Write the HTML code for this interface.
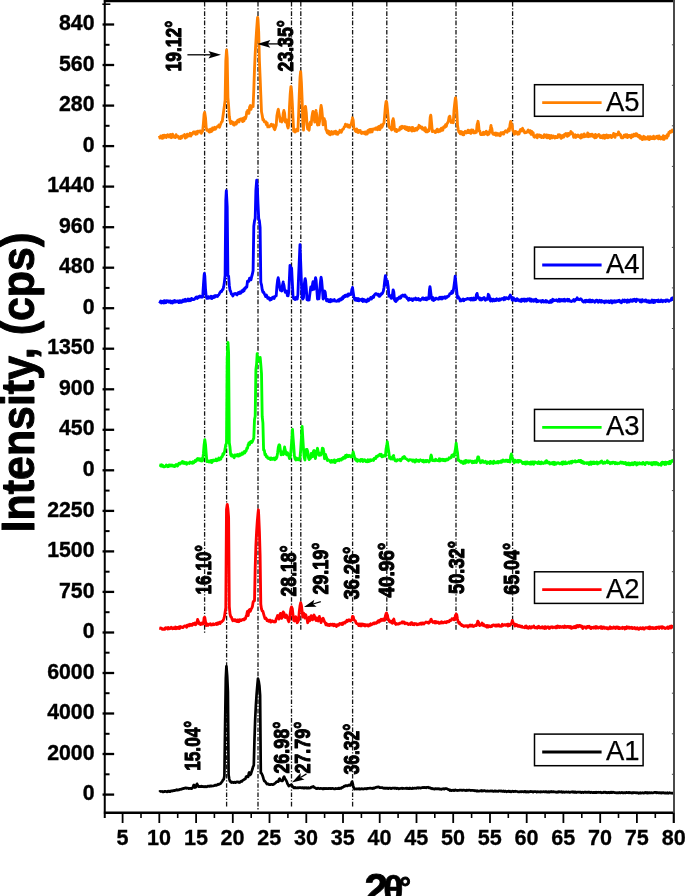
<!DOCTYPE html>
<html lang="en"><head><meta charset="utf-8"><title>XRD patterns A1-A5</title>
<style>html,body{margin:0;padding:0;background:#fff}svg{display:block}</style></head>
<body>
<svg width="685" height="896" viewBox="0 0 685 896" font-family='"Liberation Sans", Arial, Helvetica, sans-serif' font-weight="bold">
<rect x="0" y="0" width="685" height="896" fill="#fff"/>
<g stroke="#161616" stroke-width="1.3" stroke-dasharray="4.6 1.7 1.3 1.7" fill="none">
<line x1="204.6" y1="2" x2="204.6" y2="633"/>
<line x1="226.6" y1="2" x2="226.6" y2="808"/>
<line x1="258.0" y1="2" x2="258.0" y2="811"/>
<line x1="291.5" y1="2" x2="291.5" y2="808"/>
<line x1="300.8" y1="2" x2="300.8" y2="631.5"/>
<line x1="352.6" y1="2" x2="352.6" y2="808"/>
<line x1="386.8" y1="2" x2="386.8" y2="631.5"/>
<line x1="456.0" y1="2" x2="456.0" y2="630"/>
<line x1="512.6" y1="2" x2="512.6" y2="630"/>
</g>
<path d="M159.3 135.8L160.0 138.0L160.7 136.0L161.4 136.3L162.1 138.4L162.8 135.5L163.5 138.0L164.2 135.2L164.9 136.4L165.6 135.4L166.3 137.6L167.0 135.2L167.7 134.8L168.4 135.5L169.1 137.0L169.8 134.9L170.5 134.4L171.2 137.7L171.9 136.6L172.6 134.2L173.3 137.1L174.0 136.5L174.7 136.1L175.4 137.6L176.1 134.7L176.8 136.5L177.5 136.0L178.2 136.4L178.9 138.2L179.6 137.3L180.3 138.5L181.0 136.4L181.7 137.9L182.4 135.8L183.1 135.7L183.8 135.8L184.5 134.6L185.2 138.1L185.9 135.4L186.6 137.3L187.3 134.1L188.0 135.3L188.7 136.1L189.4 135.3L190.1 133.3L190.8 136.0L191.5 133.5L192.2 134.4L192.9 133.1L193.6 131.8L194.3 131.8L195.0 133.6L195.7 134.3L196.4 131.6L197.1 133.8L197.8 131.1L198.5 131.4L199.2 132.0L199.9 130.9L200.6 130.9L201.3 133.3L202.0 132.1L202.7 131.0L203.4 123.5L204.1 114.2L204.6 112.4L204.8 113.2L205.5 117.7L206.2 127.6L206.9 130.4L207.6 129.5L208.3 130.1L209.0 131.9L209.7 132.1L210.4 129.1L211.1 131.6L211.8 131.2L212.5 128.0L213.2 129.8L213.9 128.3L214.6 127.3L215.3 129.2L216.0 128.4L216.7 126.9L217.4 126.5L218.1 126.6L218.8 125.1L219.5 127.4L220.2 125.4L220.9 123.5L221.6 121.9L222.3 121.3L223.0 116.0L223.7 110.9L224.4 105.7L225.1 100.2L225.8 61.2L226.5 50.5L226.6 50.0L227.2 58.0L227.9 97.3L228.6 105.8L229.3 116.6L230.0 120.5L230.7 123.6L231.4 121.4L232.1 122.5L232.8 122.3L233.5 124.8L234.2 125.1L234.9 123.3L235.6 122.2L236.3 124.1L237.0 121.8L237.7 120.3L238.4 119.9L239.1 122.0L239.8 119.4L240.5 119.1L241.2 118.8L241.9 119.4L242.6 121.6L243.3 118.1L244.0 120.8L244.7 117.4L245.4 118.8L246.1 116.5L246.8 111.8L247.5 110.8L247.6 110.5L248.2 111.5L248.9 113.4L249.6 107.0L250.3 105.5L251.0 109.4L251.7 106.5L252.4 105.5L253.1 106.6L253.8 89.7L254.5 69.1L255.2 53.5L255.9 41.3L256.6 30.2L257.3 20.5L257.6 17.4L257.7 17.4L258.0 19.8L258.7 32.2L259.4 60.5L260.1 77.0L260.8 94.9L261.5 111.7L262.2 115.3L262.9 119.8L263.6 119.4L264.3 121.8L265.0 122.0L265.7 121.8L266.4 124.7L267.1 122.8L267.8 126.9L268.5 126.7L269.2 126.9L269.9 126.4L270.6 125.1L271.3 124.2L272.0 125.5L272.7 126.2L273.4 124.7L274.1 128.7L274.8 129.7L275.5 127.4L276.2 125.3L276.9 115.7L277.6 112.1L278.2 109.5L278.3 109.3L279.0 113.4L279.7 117.2L280.4 121.4L281.0 119.0L281.1 120.7L281.8 121.9L282.5 120.6L283.2 113.4L283.9 110.5L284.6 113.1L285.3 122.0L286.0 121.6L286.6 121.0L286.7 119.9L287.4 126.0L288.1 128.0L288.8 124.3L289.5 106.5L290.2 94.2L290.9 86.6L291.0 86.6L291.6 91.4L292.3 103.1L293.0 118.0L293.7 131.2L294.4 130.4L295.1 132.0L295.8 129.7L296.5 130.9L297.2 129.0L297.9 130.8L298.6 114.9L299.3 94.0L300.0 78.0L300.6 71.7L300.7 71.9L301.4 82.4L302.1 99.2L302.8 122.2L303.5 130.1L304.2 115.8L304.9 108.9L305.4 106.4L305.6 106.9L306.3 112.9L307.0 124.5L307.7 129.0L308.4 129.1L309.1 130.2L309.8 123.6L310.4 122.0L310.5 123.1L311.2 124.6L311.9 117.0L312.6 112.8L312.9 111.5L313.3 112.6L314.0 117.8L314.7 122.1L315.4 113.5L316.0 110.5L316.1 111.3L316.8 115.1L317.5 125.0L318.2 122.1L318.6 122.0L318.9 124.9L319.6 121.2L320.3 111.2L321.0 106.2L321.1 105.4L321.7 108.7L322.4 116.2L323.1 124.9L323.8 119.9L324.2 118.7L324.5 119.8L325.2 121.2L325.9 129.3L326.6 130.6L327.3 132.7L328.0 130.9L328.7 134.0L329.4 131.5L330.1 134.8L330.8 132.5L331.5 131.6L332.2 134.0L332.9 134.1L333.6 131.9L334.3 131.7L335.0 133.3L335.7 131.1L336.4 134.1L337.1 132.1L337.8 134.3L338.5 132.7L339.2 132.6L339.9 130.3L340.6 131.0L341.3 132.2L342.0 130.5L342.7 129.1L343.4 129.1L344.1 127.1L344.8 126.8L345.5 124.1L345.6 124.8L346.2 126.3L346.9 125.2L347.6 124.8L348.3 127.0L349.0 125.4L349.7 127.3L350.4 124.8L351.1 124.7L351.8 121.6L352.4 118.7L352.5 117.8L353.2 120.2L353.9 128.7L354.6 129.0L355.3 131.0L356.0 131.6L356.7 128.9L357.4 132.1L358.1 132.4L358.8 130.4L359.5 131.7L360.2 130.4L360.9 132.9L361.6 133.5L362.3 132.3L363.0 132.1L363.7 133.2L364.4 133.7L365.1 131.9L365.8 134.2L366.5 132.3L367.2 134.0L367.9 130.6L368.6 130.0L369.3 132.2L370.0 129.4L370.7 132.0L371.4 129.3L372.1 131.8L372.8 129.2L373.5 128.8L374.2 128.8L374.9 129.2L375.6 128.0L376.3 129.2L377.0 127.7L377.7 129.7L378.4 126.9L379.1 126.3L379.8 129.6L380.5 128.0L381.2 124.9L381.9 127.3L382.6 125.6L383.3 123.9L384.0 123.0L384.7 114.9L385.4 106.3L386.1 101.4L386.3 101.3L386.8 103.0L387.5 109.9L388.2 118.4L388.9 126.0L389.6 127.6L390.3 127.9L391.0 128.8L391.7 129.9L392.4 121.0L393.1 119.4L393.2 118.7L393.8 121.6L394.5 129.5L395.2 130.9L395.9 129.4L396.6 131.6L397.3 129.9L398.0 130.5L398.7 130.3L399.4 130.2L400.1 127.4L400.8 126.8L401.5 128.7L402.2 126.3L402.9 127.6L403.6 127.7L404.3 126.6L405.0 128.7L405.7 126.8L406.4 129.6L407.1 127.1L407.8 130.1L408.5 130.6L409.2 127.5L409.9 127.8L410.6 130.1L411.3 127.7L412.0 131.1L412.7 127.5L413.4 129.0L414.1 130.8L414.8 130.7L415.5 128.4L416.2 129.2L416.9 130.1L417.6 127.5L418.3 128.5L419.0 125.3L419.7 126.2L420.4 126.8L421.1 128.1L421.8 126.9L422.5 129.3L423.2 128.3L423.9 128.2L424.6 130.7L425.3 127.7L426.0 131.8L426.7 129.8L427.4 131.9L428.1 130.2L428.8 131.0L429.5 127.9L430.2 117.4L430.7 115.2L430.9 115.9L431.6 123.3L432.3 131.6L433.0 130.6L433.7 131.1L434.4 131.5L435.1 132.5L435.8 130.7L436.5 131.9L437.2 129.2L437.9 130.2L438.6 131.8L439.3 129.7L440.0 131.3L440.7 130.8L441.4 128.1L442.1 128.7L442.8 130.2L443.5 127.0L444.2 126.6L444.9 127.3L445.6 124.6L446.3 126.5L447.0 123.6L447.7 122.8L448.4 121.0L449.1 116.9L449.6 117.0L449.8 116.1L450.5 120.4L451.2 122.5L451.9 121.9L452.6 120.7L453.3 122.7L454.0 110.2L454.7 103.7L455.4 98.1L455.6 97.8L456.1 101.1L456.8 111.1L457.5 125.3L458.2 129.5L458.9 132.2L459.6 131.6L460.3 133.7L461.0 131.5L461.7 134.1L462.4 132.1L463.1 134.9L463.8 134.9L464.5 132.3L465.2 131.3L465.9 132.0L466.6 132.9L467.3 132.3L468.0 130.2L468.7 132.5L469.4 130.6L470.1 132.9L470.8 133.4L471.5 129.9L472.2 130.6L472.9 130.1L473.6 132.9L474.3 131.6L475.0 132.7L475.7 131.6L476.4 132.2L477.1 124.6L477.8 122.5L478.0 121.3L478.5 124.0L479.2 131.1L479.9 131.2L480.6 134.5L481.3 134.1L482.0 134.6L482.7 133.6L483.4 132.2L484.1 134.5L484.8 134.1L485.5 132.2L486.2 131.2L486.9 132.2L487.6 134.8L488.3 132.2L489.0 134.1L489.7 132.1L490.4 128.8L491.0 125.4L491.1 126.9L491.8 128.5L492.5 133.2L493.2 134.3L493.9 133.4L494.6 134.6L495.3 133.0L496.0 135.3L496.7 133.2L497.4 133.5L498.1 135.2L498.8 133.8L499.5 135.0L500.2 135.8L500.9 132.7L501.6 133.9L502.3 132.9L503.0 132.4L503.7 134.1L504.4 132.3L505.1 131.2L505.8 130.7L506.5 131.6L507.2 132.3L507.9 130.7L508.6 128.7L509.3 130.9L510.0 124.6L510.7 121.4L511.0 122.3L511.4 123.7L512.1 125.0L512.8 130.6L513.5 131.1L514.2 134.3L514.9 134.0L515.6 131.4L516.3 132.4L517.0 132.2L517.7 134.2L518.4 132.2L519.1 133.9L519.8 131.3L520.5 129.5L521.2 130.9L521.9 130.1L522.6 128.3L523.3 131.3L524.0 130.6L524.7 132.9L525.4 132.3L526.1 132.5L526.8 132.4L527.5 131.2L528.2 130.0L528.9 132.1L529.6 132.5L530.3 130.6L531.0 134.3L531.7 131.5L532.4 134.5L533.1 132.5L533.8 136.5L534.5 137.2L535.2 136.9L535.9 136.5L536.6 134.9L537.3 137.8L538.0 134.8L538.7 136.0L539.4 134.9L540.1 136.8L540.8 135.4L541.5 137.6L542.2 136.2L542.9 136.7L543.6 137.4L544.3 134.7L545.0 135.4L545.7 137.0L546.4 134.9L547.1 137.9L547.8 135.2L548.5 137.6L549.2 135.4L549.9 138.5L550.6 137.8L551.3 135.5L552.0 137.9L552.7 137.2L553.4 136.0L554.1 137.2L554.8 137.9L555.5 136.4L556.2 137.4L556.9 137.6L557.6 137.5L558.3 134.8L559.0 136.8L559.7 134.8L560.4 135.9L561.1 138.4L561.8 135.7L562.5 137.5L563.2 135.4L563.9 136.9L564.6 134.3L565.3 135.1L566.0 133.6L566.7 135.7L567.4 136.3L568.1 133.5L568.8 135.5L569.5 133.4L570.2 134.0L570.9 131.5L571.6 133.5L572.3 132.7L573.0 134.5L573.7 137.3L574.4 135.0L575.1 134.7L575.8 137.5L576.5 136.5L577.2 135.3L577.9 134.9L578.6 136.6L579.3 135.8L580.0 137.4L580.7 138.1L581.4 134.6L582.1 137.3L582.8 135.0L583.5 136.9L584.2 134.0L584.9 136.7L585.6 135.1L586.3 136.4L587.0 136.1L587.7 133.0L588.4 136.7L589.1 134.2L589.8 136.3L590.5 134.6L591.2 135.9L591.9 134.1L592.6 134.7L593.3 136.7L594.0 136.9L594.7 137.8L595.4 134.5L596.1 137.6L596.8 136.7L597.5 135.2L598.2 135.7L598.9 134.5L599.6 135.6L600.3 137.5L601.0 136.1L601.7 137.6L602.4 135.6L603.1 138.0L603.8 135.1L604.5 138.3L605.2 135.5L605.9 137.7L606.6 135.0L607.3 136.0L608.0 137.7L608.7 135.5L609.4 136.9L610.1 135.3L610.8 135.3L611.5 137.6L612.2 136.1L612.9 136.3L613.6 133.5L614.3 134.3L615.0 137.4L615.7 134.2L616.4 134.3L617.1 134.2L617.8 135.0L618.5 132.0L619.2 133.4L619.9 135.0L620.6 134.7L621.3 137.8L622.0 137.8L622.7 137.9L623.4 137.3L624.1 135.1L624.8 136.4L625.5 134.8L626.2 137.0L626.9 134.7L627.6 137.6L628.3 135.5L629.0 135.4L629.7 135.5L630.4 137.1L631.1 137.8L631.8 134.9L632.5 135.6L633.2 136.5L633.9 134.1L634.6 134.6L635.3 135.8L636.0 133.7L636.7 133.9L637.4 136.2L638.1 134.9L638.8 137.1L639.5 135.4L640.2 138.4L640.9 136.5L641.6 138.8L642.3 139.6L643.0 138.9L643.7 136.3L644.4 139.1L645.1 137.2L645.8 138.9L646.5 138.1L647.2 139.0L647.9 136.6L648.6 138.6L649.3 139.6L650.0 136.6L650.7 136.9L651.4 138.6L652.1 137.6L652.8 138.4L653.5 136.2L654.2 138.8L654.9 137.3L655.6 138.3L656.3 136.5L657.0 136.2L657.7 136.4L658.4 138.8L659.1 136.0L659.8 138.4L660.5 138.9L661.2 137.3L661.9 137.2L662.6 138.9L663.3 135.7L664.0 139.4L664.7 138.4L665.4 136.1L666.1 137.3L666.8 138.0L667.5 134.5L668.2 135.9L668.9 132.4L669.6 132.9L670.3 131.1L671.0 131.2L671.7 132.0L672.4 130.0L673.1 131.3L673.8 130.0" fill="none" stroke="#ff8000" stroke-width="2.85" stroke-linejoin="round" stroke-linecap="butt"/>
<path d="M159.3 301.3L160.0 302.2L160.7 301.1L161.4 303.0L162.1 301.3L162.8 301.9L163.5 302.9L164.2 300.6L164.9 302.9L165.6 300.9L166.3 302.4L167.0 300.8L167.7 301.2L168.4 300.9L169.1 302.2L169.8 301.0L170.5 301.0L171.2 302.9L171.9 301.5L172.6 302.9L173.3 300.9L174.0 302.3L174.7 300.6L175.4 302.1L176.1 301.1L176.8 301.8L177.5 301.0L178.2 301.1L178.9 302.6L179.6 300.8L180.3 302.2L181.0 300.8L181.7 302.3L182.4 301.6L183.1 300.1L183.8 301.4L184.5 299.9L185.2 299.2L185.9 301.2L186.6 300.9L187.3 300.3L188.0 299.0L188.7 300.7L189.4 299.2L190.1 300.7L190.8 300.5L191.5 298.4L192.2 299.6L192.9 299.2L193.6 299.6L194.3 299.4L195.0 298.4L195.7 297.5L196.4 297.1L197.1 298.4L197.8 296.9L198.5 297.7L199.2 296.3L199.9 296.0L200.6 297.0L201.3 296.6L202.0 297.3L202.7 297.0L203.4 285.3L204.1 275.5L204.4 273.4L204.8 275.9L205.5 288.8L206.2 296.6L206.9 298.4L207.6 298.4L208.3 296.6L209.0 297.9L209.7 297.1L210.4 297.9L211.1 296.3L211.8 298.6L212.5 297.0L213.2 296.4L213.9 297.5L214.6 295.8L215.3 296.9L216.0 295.6L216.7 296.3L217.4 296.5L218.1 295.1L218.8 295.0L219.5 293.5L220.2 292.3L220.9 291.3L221.6 291.5L222.3 289.7L223.0 289.5L223.7 286.7L224.4 282.1L225.1 275.5L225.8 200.4L226.3 190.7L226.5 193.6L227.2 207.1L227.9 275.7L228.6 276.0L229.3 285.2L230.0 290.2L230.7 291.5L231.4 294.1L232.1 294.5L232.8 296.0L233.5 294.8L234.2 293.7L234.9 293.9L235.6 293.5L236.3 294.4L237.0 294.9L237.7 293.3L238.4 292.6L239.1 293.6L239.8 292.1L240.5 293.3L241.2 292.4L241.9 290.6L242.6 291.8L243.3 289.8L244.0 290.9L244.7 288.3L245.4 288.5L246.1 286.9L246.8 287.0L247.5 281.1L247.8 281.0L248.2 281.1L248.9 281.3L249.6 278.1L249.8 279.0L250.3 279.4L251.0 279.7L251.7 276.5L252.4 274.0L253.1 270.6L253.8 226.3L254.5 221.0L255.2 218.5L255.9 190.0L256.6 181.4L256.7 180.2L257.0 183.1L257.3 186.4L258.0 203.9L258.7 218.4L259.4 220.9L260.1 227.4L260.8 282.4L261.5 284.8L262.2 289.6L262.9 292.2L263.6 292.0L264.3 293.6L265.0 295.0L265.7 296.6L266.4 295.1L267.1 296.6L267.8 298.4L268.5 297.5L269.2 297.9L269.9 300.1L270.6 298.5L271.3 299.6L272.0 297.9L272.7 297.3L273.4 297.0L274.1 298.4L274.8 296.7L275.5 296.2L276.2 296.0L276.9 286.4L277.6 280.3L278.2 277.7L278.3 278.2L279.0 282.0L279.7 287.5L280.4 290.4L280.8 288.0L281.1 288.6L281.8 291.0L282.5 285.1L283.2 282.0L283.3 282.8L283.9 285.0L284.6 289.6L285.3 292.4L286.0 291.9L286.2 291.0L286.7 291.3L287.4 295.7L288.1 295.9L288.8 291.5L289.5 276.3L290.0 265.4L290.2 268.2L290.9 278.7L291.6 268.0L292.3 282.1L293.0 295.7L293.7 298.8L294.4 298.2L295.1 299.5L295.8 297.5L296.5 297.6L297.2 299.0L297.9 294.5L298.6 276.3L299.3 260.3L300.0 244.6L300.7 262.8L301.4 281.7L302.1 297.7L302.8 299.0L303.5 297.8L304.2 284.8L304.9 279.9L305.2 278.7L305.6 280.5L306.3 288.7L307.0 299.7L307.7 300.0L308.4 298.2L309.1 300.0L309.8 294.3L310.5 289.2L310.8 287.0L311.2 289.7L311.9 289.9L312.6 283.8L313.0 281.7L313.3 283.0L314.0 289.3L314.7 284.6L315.4 278.4L315.6 277.7L316.1 280.2L316.8 289.2L317.5 299.0L318.2 298.4L318.9 298.8L319.6 291.7L320.3 283.2L321.0 277.5L321.1 277.3L321.7 281.0L322.4 289.0L323.1 299.0L323.8 293.1L324.5 291.1L324.6 291.0L325.2 292.2L325.9 298.0L326.6 300.9L327.3 299.3L328.0 299.7L328.7 301.5L329.4 299.9L330.1 301.8L330.8 299.5L331.5 301.3L332.2 300.0L332.9 300.7L333.6 300.8L334.3 299.6L335.0 301.0L335.7 301.0L336.4 301.2L337.1 300.8L337.8 301.1L338.5 299.8L339.2 301.1L339.9 299.1L340.6 298.8L341.3 299.8L342.0 297.6L342.7 298.8L343.4 296.4L344.1 297.3L344.8 295.5L345.5 296.5L346.2 295.1L346.9 295.9L347.6 296.2L348.3 293.9L349.0 295.3L349.7 294.1L350.4 293.7L351.1 294.5L351.8 289.7L352.4 287.9L352.5 287.5L353.2 292.4L353.9 297.0L354.6 299.2L355.3 300.2L356.0 298.4L356.7 299.0L357.4 300.6L358.1 298.5L358.8 300.9L359.5 299.2L360.2 299.6L360.9 299.7L361.6 300.5L362.3 299.1L363.0 301.5L363.7 299.5L364.4 299.7L365.1 301.2L365.8 300.5L366.5 301.7L367.2 300.0L367.9 299.0L368.6 300.7L369.3 299.6L370.0 299.0L370.7 297.5L371.4 299.0L372.1 297.6L372.8 296.6L373.5 297.5L374.2 295.3L374.9 294.5L375.6 293.7L376.3 293.6L377.0 294.1L377.7 295.1L378.4 294.2L379.1 296.3L379.8 296.3L380.5 295.3L381.2 293.8L381.9 294.1L382.6 293.0L383.3 291.3L384.0 287.5L384.7 281.0L385.4 275.6L386.1 279.7L386.8 285.3L387.4 281.0L387.5 282.1L388.2 286.8L388.9 296.2L389.6 295.3L390.3 295.6L391.0 298.2L391.7 298.4L392.4 295.2L393.1 290.0L393.2 290.0L393.8 292.0L394.5 299.8L395.2 301.1L395.9 301.5L396.6 298.6L397.3 300.1L398.0 298.1L398.7 298.5L399.4 296.9L400.1 298.3L400.8 297.8L401.5 295.7L402.2 295.8L402.9 295.0L403.6 296.2L404.3 296.3L405.0 295.0L405.7 296.9L406.4 296.8L407.1 298.6L407.8 298.4L408.5 300.2L409.2 298.3L409.9 299.7L410.6 299.6L411.3 298.8L412.0 300.0L412.7 300.5L413.4 298.8L414.1 299.5L414.8 298.9L415.5 298.1L416.2 299.7L416.9 298.9L417.6 299.5L418.3 298.5L419.0 299.9L419.7 299.5L420.4 300.2L421.1 299.2L421.8 299.4L422.5 298.0L423.2 297.9L423.9 299.3L424.6 298.6L425.3 299.5L426.0 297.9L426.7 299.8L427.4 297.9L428.1 298.4L428.8 298.8L429.5 289.4L430.0 286.6L430.2 287.9L430.9 293.7L431.6 298.6L432.3 299.9L433.0 297.7L433.7 300.5L434.4 298.9L435.1 299.6L435.8 298.2L436.5 298.1L437.2 298.9L437.9 299.0L438.6 299.3L439.3 297.7L440.0 297.2L440.7 298.8L441.4 297.2L442.1 299.0L442.8 297.1L443.5 298.1L444.2 297.8L444.9 296.8L445.6 298.3L446.3 296.7L447.0 297.3L447.7 296.1L448.4 296.4L449.1 295.6L449.8 293.6L450.5 293.6L451.2 293.5L451.9 291.3L452.6 292.9L453.3 290.8L454.0 285.9L454.7 280.6L455.2 276.2L455.4 278.1L456.1 285.0L456.8 291.6L457.5 298.1L458.2 296.5L458.9 298.3L459.6 298.5L460.3 301.0L461.0 299.8L461.7 300.7L462.4 299.4L463.1 299.0L463.8 300.7L464.5 299.4L465.2 299.6L465.9 299.1L466.6 299.4L467.3 298.5L468.0 298.6L468.7 298.7L469.4 299.3L470.1 298.4L470.8 299.9L471.5 298.3L472.2 299.7L472.9 300.0L473.6 298.0L474.3 299.8L475.0 298.2L475.7 299.4L476.4 294.6L477.0 294.0L477.1 293.4L477.8 297.1L478.5 298.2L479.2 297.7L479.9 299.9L480.6 298.2L481.3 299.9L482.0 299.6L482.7 298.3L483.4 298.8L484.1 297.6L484.8 299.5L485.5 300.3L486.2 298.7L486.9 298.7L487.6 299.3L488.3 294.3L488.6 295.0L489.0 295.2L489.7 298.1L490.4 301.0L491.1 298.8L491.8 300.3L492.5 301.0L493.2 299.1L493.9 300.0L494.6 300.8L495.3 299.4L496.0 300.6L496.7 298.8L497.4 300.0L498.1 299.5L498.8 300.5L499.5 298.9L500.2 300.0L500.9 299.5L501.6 298.8L502.3 298.4L503.0 299.1L503.7 299.8L504.4 297.5L505.1 299.4L505.8 298.0L506.5 297.6L507.2 298.5L507.9 298.0L508.6 298.9L509.3 296.6L510.0 296.0L510.3 295.0L510.7 296.4L511.4 296.9L512.1 299.9L512.8 300.3L513.5 297.9L514.2 300.1L514.9 299.1L515.6 300.7L516.3 300.6L517.0 298.7L517.7 300.2L518.4 299.7L519.1 300.9L519.8 300.5L520.5 299.7L521.2 301.4L521.9 299.1L522.6 300.7L523.3 299.7L524.0 299.0L524.7 301.2L525.4 299.3L526.1 300.5L526.8 300.9L527.5 299.0L528.2 299.0L528.9 300.0L529.6 298.7L530.3 301.1L531.0 299.2L531.7 301.2L532.4 299.8L533.1 299.6L533.8 301.2L534.5 300.6L535.2 299.3L535.9 299.2L536.6 301.8L537.3 300.3L538.0 301.6L538.7 301.0L539.4 301.0L540.1 300.8L540.8 301.2L541.5 302.2L542.2 300.5L542.9 300.5L543.6 302.0L544.3 301.9L545.0 301.6L545.7 300.4L546.4 302.1L547.1 301.0L547.8 301.6L548.5 302.4L549.2 302.5L549.9 302.3L550.6 300.5L551.3 302.3L552.0 302.0L552.7 299.3L553.4 301.0L554.1 299.9L554.8 300.6L555.5 300.3L556.2 299.8L556.9 300.6L557.6 301.2L558.3 300.4L559.0 299.3L559.7 301.3L560.4 300.7L561.1 299.4L561.8 300.9L562.5 300.8L563.2 299.5L563.9 301.0L564.6 299.3L565.3 301.1L566.0 300.3L566.7 299.9L567.4 299.2L568.1 300.9L568.8 299.4L569.5 301.0L570.2 300.8L570.9 301.4L571.6 301.5L572.3 300.9L573.0 300.6L573.7 299.6L574.4 301.3L575.1 300.5L575.8 299.3L576.5 299.6L577.2 297.8L577.9 299.2L578.6 299.6L579.3 299.7L580.0 299.0L580.7 298.8L581.4 299.4L582.1 300.4L582.8 301.4L583.5 302.1L584.2 301.7L584.9 300.6L585.6 302.0L586.3 300.3L587.0 301.2L587.7 301.6L588.4 300.2L589.1 301.8L589.8 299.9L590.5 301.9L591.2 300.4L591.9 301.8L592.6 300.3L593.3 301.1L594.0 300.9L594.7 302.2L595.4 301.8L596.1 300.4L596.8 300.1L597.5 300.7L598.2 302.3L598.9 300.9L599.6 300.3L600.3 301.7L601.0 302.2L601.7 300.6L602.4 301.8L603.1 301.8L603.8 301.2L604.5 302.7L605.2 301.1L605.9 302.1L606.6 300.9L607.3 302.1L608.0 301.5L608.7 300.9L609.4 302.6L610.1 302.0L610.8 300.6L611.5 300.8L612.2 303.0L612.9 301.0L613.6 302.0L614.3 300.8L615.0 302.2L615.7 300.9L616.4 301.9L617.1 300.7L617.8 301.5L618.5 300.4L619.2 300.3L619.9 301.8L620.6 301.2L621.3 302.8L622.0 301.3L622.7 300.1L623.4 301.5L624.1 301.7L624.8 300.1L625.5 301.2L626.2 300.5L626.9 302.3L627.6 299.9L628.3 300.3L629.0 301.9L629.7 300.3L630.4 299.8L631.1 301.2L631.8 300.1L632.5 301.2L633.2 299.6L633.9 300.8L634.6 299.3L635.3 299.8L636.0 301.6L636.7 299.2L637.4 299.9L638.1 300.1L638.8 299.8L639.5 300.2L640.2 301.7L640.9 300.0L641.6 302.0L642.3 299.6L643.0 301.3L643.7 300.7L644.4 301.2L645.1 300.1L645.8 299.9L646.5 301.9L647.2 300.8L647.9 302.1L648.6 300.7L649.3 302.4L650.0 301.1L650.7 302.4L651.4 302.2L652.1 300.0L652.8 301.7L653.5 302.6L654.2 300.3L654.9 302.2L655.6 300.5L656.3 300.3L657.0 300.3L657.7 301.5L658.4 300.1L659.1 301.7L659.8 301.6L660.5 301.6L661.2 300.1L661.9 300.8L662.6 301.8L663.3 300.5L664.0 300.7L664.7 300.5L665.4 301.5L666.1 300.1L666.8 300.9L667.5 299.9L668.2 300.7L668.9 301.3L669.6 300.7L670.3 300.5L671.0 300.2L671.7 298.1L672.4 299.5L673.1 297.9L673.8 297.1" fill="none" stroke="#0000ff" stroke-width="2.85" stroke-linejoin="round" stroke-linecap="butt"/>
<path d="M159.3 464.8L160.0 465.0L160.7 466.0L161.4 464.7L162.1 466.3L162.8 465.3L163.5 466.8L164.2 466.8L164.9 466.6L165.6 466.4L166.3 465.0L167.0 465.8L167.7 466.7L168.4 466.6L169.1 464.9L169.8 466.1L170.5 465.1L171.2 466.0L171.9 465.0L172.6 465.8L173.3 466.3L174.0 465.6L174.7 466.6L175.4 465.2L176.1 464.5L176.8 464.7L177.5 466.1L178.2 465.0L178.9 463.4L179.6 463.1L180.3 463.9L181.0 462.6L181.7 462.9L182.4 461.5L183.1 463.3L183.8 462.1L184.5 463.5L185.2 463.3L185.9 462.4L186.6 464.2L187.3 462.9L188.0 463.1L188.7 463.0L189.4 463.5L190.1 462.0L190.8 462.9L191.5 462.5L192.2 463.2L192.9 461.8L193.6 462.9L194.3 461.9L195.0 460.6L195.7 461.4L196.4 460.6L197.1 458.9L197.8 458.5L198.5 459.9L199.2 458.8L199.9 460.4L200.6 460.7L201.3 458.7L202.0 461.0L202.7 460.2L203.4 453.7L204.1 444.9L204.8 439.6L205.5 444.4L206.2 453.6L206.9 461.6L207.6 461.5L208.3 460.9L209.0 462.1L209.7 461.0L210.4 462.0L211.1 460.4L211.8 462.6L212.5 460.6L213.2 459.9L213.9 460.9L214.6 460.1L215.3 460.5L216.0 459.0L216.7 460.7L217.4 460.4L218.1 459.8L218.8 458.0L219.5 459.8L220.2 458.2L220.9 458.9L221.6 456.9L222.3 456.6L223.0 453.6L223.7 454.2L224.4 452.3L225.1 448.9L225.8 444.6L226.5 443.4L227.2 358.8L227.9 343.9L228.0 342.5L228.6 353.4L229.3 442.6L230.0 447.3L230.7 454.8L231.4 456.0L232.1 454.8L232.8 456.3L233.5 456.4L234.2 457.7L234.9 454.9L235.6 455.9L236.3 454.9L237.0 455.8L237.7 454.4L238.4 456.1L239.1 455.9L239.8 454.0L240.5 455.2L241.2 454.5L241.9 453.1L242.6 454.2L243.3 453.1L244.0 451.7L244.7 453.1L245.4 451.0L246.1 451.2L246.8 448.2L247.5 448.3L248.2 444.6L248.8 444.0L248.9 442.9L249.6 444.7L250.3 441.9L251.0 441.5L251.7 442.5L252.4 441.6L253.1 439.7L253.8 438.1L254.5 419.5L255.2 416.2L255.9 369.5L256.6 364.0L257.2 353.7L257.3 360.0L258.0 360.5L258.6 359.5L258.7 359.8L259.4 360.2L260.1 361.8L260.2 357.5L260.8 364.5L261.5 373.5L262.2 416.5L262.9 422.8L263.6 449.9L264.3 450.3L265.0 454.7L265.7 454.3L266.4 456.9L267.1 456.4L267.8 458.1L268.5 458.4L269.2 458.7L269.9 458.0L270.6 459.6L271.3 458.0L272.0 458.6L272.7 459.3L273.4 458.1L274.1 458.4L274.8 459.7L275.5 457.8L276.2 458.8L276.9 457.2L277.6 452.9L278.3 447.5L279.0 445.0L279.2 444.8L279.7 445.3L280.4 450.2L281.1 454.9L281.8 452.8L282.0 452.0L282.5 453.5L283.2 454.6L283.9 451.3L284.6 447.0L284.7 447.9L285.3 450.3L286.0 454.0L286.7 454.7L287.4 452.6L287.6 453.0L288.1 455.1L288.8 455.9L289.5 458.6L290.2 457.9L290.9 450.8L291.6 442.6L292.3 432.8L292.5 429.5L293.0 437.1L293.7 445.7L294.4 456.0L295.1 458.9L295.8 459.9L296.5 458.0L297.2 459.7L297.9 458.9L298.6 458.5L299.3 459.9L300.0 457.6L300.7 449.6L301.4 437.9L302.1 426.4L302.8 438.0L303.5 449.3L304.2 457.1L304.9 460.0L305.6 453.2L306.3 449.5L306.8 450.0L307.0 449.4L307.7 451.4L308.4 457.5L309.1 459.6L309.8 458.0L310.5 458.4L311.2 453.5L311.6 454.0L311.9 454.1L312.6 456.7L313.3 451.6L313.9 450.5L314.0 450.4L314.7 452.6L315.4 458.5L316.1 453.7L316.8 450.8L317.4 449.0L317.5 448.3L318.2 451.7L318.9 455.2L319.6 455.2L320.2 454.0L320.3 453.3L321.0 454.9L321.7 452.4L322.4 448.1L322.7 449.0L323.1 448.4L323.8 451.9L324.5 458.7L325.2 454.7L325.6 454.5L325.9 455.7L326.6 457.7L327.3 460.5L328.0 459.6L328.7 460.2L329.4 460.3L330.1 461.6L330.8 462.3L331.5 460.4L332.2 462.1L332.9 461.2L333.6 462.0L334.3 459.9L335.0 462.6L335.7 460.9L336.4 460.5L337.1 460.7L337.8 459.7L338.5 459.5L339.2 460.8L339.9 459.2L340.6 459.4L341.3 460.0L342.0 458.4L342.7 459.0L343.4 457.3L344.1 457.1L344.8 458.2L345.5 455.5L346.2 457.4L346.9 455.0L347.6 456.6L348.3 455.4L349.0 456.4L349.7 455.5L350.4 455.8L351.1 457.0L351.8 456.8L352.5 455.0L353.2 452.0L353.9 454.9L354.6 457.2L355.3 459.2L356.0 460.4L356.7 459.2L357.4 461.3L358.1 460.1L358.8 460.0L359.5 460.3L360.2 461.3L360.9 459.4L361.6 460.6L362.3 459.4L363.0 461.5L363.7 460.0L364.4 459.7L365.1 460.1L365.8 461.5L366.5 461.3L367.2 461.7L367.9 459.8L368.6 461.6L369.3 459.9L370.0 461.0L370.7 459.8L371.4 460.5L372.1 459.8L372.8 459.6L373.5 460.5L374.2 458.3L374.9 458.1L375.6 458.6L376.3 456.4L377.0 456.9L377.7 455.8L378.4 456.0L379.1 455.1L379.8 454.3L380.5 455.6L381.2 454.2L381.9 456.8L382.6 456.6L383.3 456.4L384.0 455.3L384.7 455.3L385.4 456.0L386.1 448.7L386.8 445.4L387.3 441.7L387.5 443.1L388.2 448.3L388.9 452.8L389.6 458.4L390.3 457.3L391.0 459.0L391.7 458.2L392.4 458.9L393.1 455.7L393.6 455.5L393.8 456.8L394.5 459.5L395.2 460.7L395.9 460.2L396.6 461.0L397.3 459.7L398.0 459.9L398.7 459.9L399.4 460.2L400.1 459.2L400.8 460.7L401.5 459.2L402.2 458.5L402.9 457.2L403.6 458.2L404.3 456.5L405.0 457.6L405.7 458.7L406.4 458.8L407.1 459.6L407.8 459.8L408.5 460.8L409.2 459.8L409.9 459.6L410.6 459.8L411.3 459.9L412.0 460.0L412.7 461.3L413.4 460.0L414.1 460.2L414.8 462.1L415.5 461.6L416.2 459.7L416.9 461.0L417.6 461.0L418.3 460.3L419.0 461.5L419.7 460.6L420.4 459.8L421.1 460.3L421.8 460.4L422.5 461.6L423.2 460.3L423.9 462.0L424.6 461.5L425.3 460.5L426.0 461.8L426.7 460.4L427.4 460.5L428.1 460.8L428.8 462.1L429.5 461.1L430.2 460.0L430.9 455.8L431.2 455.0L431.6 456.7L432.3 460.6L433.0 460.7L433.7 460.4L434.4 460.0L435.1 460.8L435.8 459.2L436.5 460.2L437.2 460.6L437.9 460.7L438.6 460.8L439.3 458.8L440.0 461.0L440.7 459.2L441.4 459.6L442.1 460.3L442.8 459.2L443.5 460.6L444.2 459.5L444.9 460.9L445.6 460.7L446.3 459.1L447.0 459.1L447.7 459.9L448.4 459.3L449.1 457.7L449.8 458.3L450.5 457.9L451.2 457.5L451.9 455.3L452.6 455.9L453.3 454.6L454.0 456.5L454.7 452.8L455.4 449.3L456.1 443.6L456.2 443.2L456.8 448.8L457.5 452.7L458.2 460.2L458.9 460.0L459.6 461.1L460.3 461.5L461.0 462.3L461.7 461.3L462.4 462.8L463.1 463.5L463.8 463.4L464.5 461.0L465.2 463.1L465.9 460.4L466.6 462.2L467.3 461.4L468.0 460.7L468.7 462.2L469.4 460.8L470.1 460.8L470.8 461.1L471.5 461.5L472.2 462.8L472.9 461.2L473.6 462.6L474.3 462.5L475.0 460.9L475.7 461.1L476.4 462.5L477.1 460.4L477.8 457.0L478.2 457.0L478.5 456.9L479.2 459.8L479.9 461.3L480.6 462.8L481.3 462.5L482.0 460.6L482.7 460.7L483.4 462.2L484.1 462.5L484.8 461.8L485.5 461.3L486.2 462.2L486.9 463.5L487.6 462.0L488.3 462.5L489.0 462.3L489.7 463.5L490.4 461.4L491.1 463.1L491.8 462.3L492.5 462.0L493.2 463.5L493.9 461.2L494.6 462.0L495.3 462.9L496.0 462.8L496.7 462.6L497.4 461.6L498.1 462.9L498.8 461.5L499.5 462.4L500.2 462.4L500.9 460.9L501.6 462.2L502.3 460.4L503.0 459.9L503.7 461.2L504.4 460.8L505.1 461.3L505.8 460.2L506.5 460.1L507.2 461.4L507.9 460.3L508.6 461.5L509.3 461.0L510.0 462.0L510.7 456.1L511.4 453.9L511.5 454.5L512.1 457.3L512.8 458.9L513.5 460.9L514.2 462.8L514.9 460.2L515.6 461.7L516.3 460.9L517.0 461.9L517.7 460.4L518.4 462.2L519.1 460.4L519.8 461.2L520.5 460.7L521.2 461.6L521.9 462.0L522.6 463.4L523.3 462.4L524.0 463.5L524.7 462.3L525.4 464.1L526.1 462.0L526.8 463.8L527.5 462.0L528.2 463.5L528.9 463.7L529.6 462.4L530.3 464.1L531.0 462.0L531.7 464.0L532.4 461.9L533.1 462.0L533.8 464.2L534.5 462.0L535.2 462.0L535.9 462.3L536.6 463.0L537.3 462.7L538.0 463.5L538.7 461.8L539.4 463.6L540.1 462.7L540.8 463.8L541.5 462.0L542.2 463.4L542.9 463.3L543.6 463.5L544.3 462.6L545.0 461.8L545.7 463.0L546.4 460.7L547.1 461.2L547.8 462.8L548.5 463.1L549.2 462.3L549.9 464.0L550.6 463.7L551.3 462.8L552.0 463.8L552.7 462.5L553.4 464.2L554.1 462.3L554.8 464.5L555.5 462.8L556.2 464.1L556.9 462.9L557.6 463.1L558.3 462.7L559.0 463.2L559.7 463.9L560.4 463.7L561.1 463.4L561.8 462.3L562.5 464.4L563.2 461.9L563.9 462.8L564.6 463.7L565.3 461.9L566.0 463.7L566.7 463.6L567.4 463.0L568.1 462.7L568.8 462.1L569.5 463.3L570.2 461.9L570.9 461.5L571.6 463.0L572.3 461.1L573.0 461.5L573.7 461.9L574.4 461.5L575.1 460.8L575.8 462.1L576.5 461.4L577.2 461.5L577.9 461.6L578.6 460.5L579.3 461.6L580.0 460.4L580.7 460.5L581.4 462.5L582.1 461.3L582.8 463.0L583.5 461.9L584.2 463.5L584.9 463.2L585.6 462.8L586.3 462.7L587.0 463.5L587.7 462.7L588.4 462.6L589.1 464.5L589.8 462.8L590.5 461.9L591.2 464.4L591.9 462.2L592.6 462.2L593.3 463.6L594.0 462.1L594.7 463.5L595.4 462.8L596.1 463.2L596.8 461.9L597.5 464.0L598.2 463.2L598.9 462.4L599.6 463.0L600.3 461.8L601.0 461.3L601.7 461.0L602.4 462.7L603.1 463.4L603.8 463.0L604.5 462.1L605.2 463.1L605.9 462.4L606.6 462.2L607.3 460.8L608.0 462.7L608.7 462.4L609.4 462.2L610.1 463.7L610.8 463.3L611.5 462.4L612.2 463.3L612.9 462.1L613.6 462.3L614.3 462.3L615.0 463.7L615.7 462.5L616.4 463.4L617.1 463.7L617.8 462.9L618.5 463.3L619.2 463.6L619.9 462.9L620.6 462.0L621.3 462.1L622.0 463.2L622.7 462.3L623.4 462.6L624.1 463.6L624.8 462.9L625.5 462.4L626.2 464.5L626.9 464.7L627.6 463.3L628.3 462.9L629.0 464.7L629.7 463.2L630.4 464.9L631.1 464.7L631.8 462.9L632.5 462.9L633.2 464.7L633.9 464.0L634.6 462.4L635.3 463.8L636.0 462.8L636.7 465.0L637.4 462.9L638.1 463.2L638.8 464.0L639.5 462.8L640.2 463.7L640.9 463.7L641.6 463.2L642.3 464.1L643.0 462.4L643.7 463.0L644.4 464.0L645.1 464.6L645.8 462.6L646.5 462.6L647.2 462.4L647.9 462.8L648.6 463.7L649.3 462.8L650.0 462.9L650.7 464.0L651.4 462.8L652.1 464.9L652.8 462.9L653.5 462.6L654.2 464.3L654.9 462.6L655.6 464.3L656.3 462.5L657.0 463.9L657.7 463.0L658.4 464.8L659.1 464.6L659.8 464.7L660.5 463.7L661.2 465.2L661.9 462.4L662.6 462.2L663.3 463.6L664.0 462.5L664.7 464.5L665.4 462.1L666.1 464.4L666.8 462.4L667.5 462.6L668.2 462.4L668.9 463.7L669.6 461.4L670.3 463.6L671.0 461.7L671.7 460.8L672.4 460.4L673.1 461.3L673.8 459.3" fill="none" stroke="#00ff00" stroke-width="2.85" stroke-linejoin="round" stroke-linecap="butt"/>
<path d="M159.3 628.2L160.0 628.4L160.7 627.9L161.4 628.3L162.1 629.3L162.8 628.8L163.5 629.3L164.2 628.8L164.9 629.2L165.6 627.7L166.3 628.2L167.0 627.8L167.7 629.0L168.4 627.5L169.1 628.8L169.8 628.7L170.5 628.3L171.2 627.2L171.9 628.3L172.6 628.7L173.3 627.7L174.0 628.5L174.7 628.6L175.4 627.1L176.1 628.8L176.8 627.6L177.5 627.5L178.2 628.4L178.9 627.0L179.6 628.5L180.3 626.5L181.0 627.4L181.7 627.0L182.4 627.5L183.1 627.5L183.8 626.4L184.5 626.0L185.2 626.1L185.9 625.9L186.6 627.2L187.3 625.2L188.0 626.0L188.7 624.7L189.4 625.8L190.1 624.3L190.8 625.3L191.5 624.6L192.2 625.3L192.9 623.7L193.6 623.5L194.3 624.4L195.0 623.0L195.7 624.7L196.4 623.7L197.1 622.1L197.6 619.5L197.8 620.1L198.5 621.6L199.2 623.9L199.9 623.2L200.6 624.6L201.3 623.0L202.0 623.5L202.7 624.1L203.4 623.7L204.1 617.8L204.6 617.3L204.8 617.4L205.5 621.7L206.2 625.5L206.9 625.3L207.6 624.0L208.3 625.3L209.0 624.3L209.7 624.2L210.4 623.7L211.1 625.0L211.8 624.6L212.5 624.8L213.2 623.8L213.9 624.7L214.6 624.4L215.3 624.0L216.0 623.5L216.7 624.5L217.4 622.9L218.1 623.9L218.8 623.5L219.5 622.2L220.2 623.4L220.9 621.9L221.6 621.9L222.3 621.2L223.0 620.7L223.7 618.9L224.4 616.9L225.1 612.3L225.8 607.8L226.5 509.4L227.2 505.0L227.3 504.5L227.9 508.7L228.6 517.3L229.3 606.6L230.0 613.9L230.7 616.6L231.4 617.1L232.1 619.2L232.8 620.7L233.5 619.9L234.2 619.7L234.9 620.8L235.6 619.8L236.3 621.2L237.0 621.6L237.7 619.9L238.4 621.7L239.1 621.6L239.8 619.7L240.5 619.8L241.2 620.5L241.9 619.7L242.6 619.9L243.3 619.3L244.0 619.8L244.7 618.5L245.4 618.9L246.1 616.3L246.8 614.4L247.4 611.5L247.5 612.8L248.2 615.6L248.9 610.4L249.6 609.5L250.3 611.3L251.0 609.4L251.7 608.1L252.4 606.6L253.1 602.2L253.8 600.9L254.5 600.8L255.2 567.5L255.9 545.5L256.6 531.6L257.3 521.2L258.0 513.5L258.4 509.8L258.7 515.2L259.4 531.2L260.1 555.5L260.8 604.3L261.5 609.1L262.2 611.0L262.9 611.3L263.6 613.9L264.3 616.4L265.0 618.6L265.7 617.8L266.4 619.1L267.1 620.5L267.8 620.0L268.5 621.2L269.2 620.6L269.9 620.1L270.6 622.1L271.3 621.9L272.0 620.7L272.7 620.8L273.4 621.7L274.1 621.4L274.8 622.0L275.5 621.8L276.2 618.8L276.9 617.7L277.6 615.5L278.3 615.7L279.0 619.1L279.7 615.3L280.4 613.4L280.6 614.0L281.1 614.2L281.8 618.4L282.5 613.7L283.2 611.9L283.3 612.5L283.9 612.6L284.6 617.1L285.3 617.5L286.0 616.2L286.4 615.0L286.7 616.1L287.4 617.8L288.1 620.2L288.8 621.7L289.5 619.2L290.2 613.8L290.9 608.6L291.5 606.9L291.6 607.1L292.3 608.6L293.0 614.7L293.7 620.4L294.4 621.0L295.1 618.9L295.6 617.5L295.8 616.8L296.5 619.0L297.2 622.7L297.9 621.7L298.6 620.2L299.3 611.1L300.0 605.9L300.7 602.8L301.4 605.4L302.1 611.1L302.8 617.0L303.5 613.3L303.6 613.0L304.2 614.4L304.9 618.0L305.6 614.6L305.8 615.0L306.3 616.7L307.0 618.8L307.7 622.7L308.4 618.5L309.0 618.0L309.1 617.2L309.8 620.8L310.5 619.0L311.2 615.6L311.4 616.0L311.9 617.9L312.6 619.8L313.3 616.5L314.0 615.0L314.7 616.6L315.4 619.4L316.1 620.6L316.8 617.9L317.0 618.0L317.5 619.4L318.2 620.9L318.9 618.7L319.4 616.5L319.6 617.2L320.3 618.4L321.0 622.6L321.7 621.0L322.4 619.4L323.0 618.5L323.1 618.3L323.8 619.9L324.5 621.8L325.2 622.7L325.9 624.7L326.6 623.6L327.3 625.2L328.0 625.4L328.7 624.6L329.4 625.6L330.1 624.3L330.8 624.1L331.5 625.1L332.2 624.1L332.9 624.1L333.6 625.8L334.3 624.2L335.0 625.6L335.7 625.0L336.4 626.4L337.1 624.6L337.8 624.7L338.5 625.3L339.2 624.0L339.9 623.4L340.6 623.9L341.3 624.4L342.0 623.3L342.7 624.4L343.4 622.6L344.1 622.8L344.8 623.1L345.5 621.6L346.2 621.9L346.9 620.3L347.6 621.4L348.3 620.1L349.0 619.8L349.7 620.7L350.4 621.1L351.1 620.1L351.8 620.0L352.5 616.4L352.8 616.5L353.2 616.6L353.9 619.8L354.6 620.3L355.3 620.8L356.0 622.9L356.7 623.6L357.4 623.8L358.1 624.1L358.8 625.6L359.5 624.1L360.2 625.8L360.9 624.0L361.6 625.8L362.3 624.0L363.0 624.2L363.7 625.4L364.4 624.4L365.1 625.9L365.8 624.7L366.5 624.8L367.2 625.7L367.9 624.7L368.6 626.0L369.3 624.8L370.0 625.3L370.7 623.8L371.4 624.8L372.1 624.3L372.8 623.8L373.5 623.1L374.2 623.8L374.9 622.8L375.6 623.3L376.3 623.3L377.0 622.0L377.7 622.4L378.4 620.6L379.1 622.1L379.8 620.2L380.5 621.1L381.2 619.3L381.9 620.3L382.6 620.4L383.3 619.0L384.0 620.4L384.7 620.3L385.4 616.0L386.1 613.6L386.5 613.0L386.8 614.0L387.5 615.4L388.2 619.8L388.9 619.7L389.6 621.8L390.3 622.0L391.0 621.3L391.7 622.8L392.4 623.2L393.1 620.2L393.6 619.5L393.8 619.1L394.5 622.2L395.2 623.6L395.9 624.5L396.6 623.4L397.3 624.1L398.0 624.1L398.7 624.0L399.4 623.2L400.1 623.4L400.8 623.2L401.5 622.7L402.2 621.8L402.9 623.0L403.6 621.9L404.3 622.1L405.0 623.7L405.7 623.2L406.4 623.2L407.1 623.1L407.8 624.1L408.5 624.6L409.2 623.9L409.9 623.7L410.6 624.5L411.3 622.6L412.0 622.9L412.7 624.5L413.4 623.7L414.1 624.8L414.8 623.5L415.5 623.7L416.2 623.7L416.9 624.8L417.6 624.1L418.3 624.5L419.0 624.3L419.7 623.5L420.4 624.1L421.1 623.0L421.8 624.2L422.5 622.8L423.2 622.8L423.9 624.0L424.6 622.8L425.3 622.8L426.0 622.0L426.7 622.2L427.4 622.7L428.1 622.3L428.8 623.2L429.5 621.6L430.2 621.7L430.9 619.5L431.2 619.3L431.6 620.2L432.3 621.5L433.0 622.5L433.7 622.2L434.4 621.4L435.1 622.9L435.8 621.6L436.5 622.8L437.2 622.3L437.9 621.9L438.6 623.1L439.3 623.4L440.0 622.5L440.7 622.9L441.4 621.8L442.1 622.9L442.8 622.2L443.5 622.8L444.2 622.3L444.9 621.8L445.6 622.6L446.3 622.7L447.0 621.5L447.7 621.5L448.4 621.9L449.1 621.6L449.8 620.3L450.5 620.6L451.2 620.3L451.9 618.7L452.6 619.1L453.3 618.5L454.0 619.9L454.7 619.7L455.4 615.4L456.1 614.5L456.2 614.0L456.8 614.9L457.5 619.0L458.2 621.6L458.9 623.3L459.6 622.6L460.3 624.3L461.0 624.2L461.7 625.5L462.4 625.2L463.1 625.8L463.8 626.5L464.5 626.2L465.2 625.6L465.9 626.1L466.6 625.6L467.3 625.6L468.0 627.0L468.7 625.7L469.4 626.0L470.1 624.9L470.8 626.0L471.5 626.0L472.2 625.1L472.9 626.3L473.6 626.5L474.3 625.7L475.0 625.7L475.7 624.9L476.4 625.5L477.1 623.9L477.8 621.1L478.0 621.5L478.5 622.1L479.2 625.3L479.9 625.6L480.6 624.9L481.3 624.5L482.0 623.1L482.7 625.4L483.4 624.0L484.1 625.8L484.8 625.4L485.5 626.2L486.2 625.6L486.9 627.1L487.6 625.6L488.3 627.0L489.0 625.7L489.7 626.3L490.4 626.7L491.1 626.0L491.8 626.5L492.5 625.1L493.2 625.4L493.9 624.9L494.6 625.3L495.3 626.0L496.0 624.9L496.7 626.0L497.4 625.1L498.1 626.0L498.8 624.8L499.5 625.5L500.2 626.3L500.9 625.9L501.6 626.2L502.3 624.3L503.0 624.8L503.7 625.4L504.4 624.6L505.1 624.6L505.8 625.3L506.5 624.5L507.2 624.3L507.9 626.1L508.6 624.2L509.3 625.6L510.0 625.4L510.7 624.5L511.4 623.4L512.1 621.6L512.3 620.5L512.8 622.0L513.5 623.4L514.2 624.3L514.9 625.9L515.6 624.3L516.3 625.6L517.0 624.8L517.7 626.1L518.4 626.4L519.1 625.5L519.8 626.5L520.5 626.0L521.2 627.1L521.9 626.2L522.6 627.3L523.3 627.3L524.0 627.5L524.7 627.8L525.4 626.2L526.1 626.0L526.8 627.8L527.5 627.1L528.2 628.2L528.9 627.5L529.6 626.6L530.3 627.9L531.0 628.1L531.7 626.8L532.4 627.4L533.1 627.0L533.8 626.0L534.5 627.5L535.2 627.9L535.9 627.8L536.6 627.2L537.3 628.2L538.0 626.5L538.7 626.3L539.4 627.7L540.1 628.0L540.8 627.3L541.5 627.7L542.2 626.7L542.9 628.0L543.6 627.2L544.3 628.4L545.0 626.6L545.7 628.4L546.4 628.1L547.1 626.9L547.8 626.9L548.5 627.0L549.2 628.5L549.9 628.2L550.6 627.0L551.3 627.2L552.0 626.7L552.7 627.8L553.4 627.3L554.1 627.0L554.8 627.2L555.5 627.8L556.2 626.4L556.9 627.8L557.6 626.1L558.3 627.2L559.0 626.3L559.7 627.6L560.4 626.4L561.1 627.2L561.8 627.4L562.5 626.5L563.2 626.7L563.9 627.4L564.6 626.1L565.3 627.3L566.0 626.6L566.7 627.3L567.4 626.4L568.1 626.5L568.8 627.3L569.5 626.5L570.2 627.7L570.9 626.6L571.6 628.4L572.3 627.5L573.0 627.1L573.7 627.7L574.4 626.4L575.1 627.5L575.8 627.8L576.5 625.6L577.2 626.7L577.9 625.5L578.6 626.7L579.3 625.4L580.0 625.6L580.7 625.7L581.4 627.0L582.1 626.3L582.8 628.5L583.5 627.8L584.2 626.8L584.9 626.9L585.6 627.4L586.3 628.2L587.0 626.6L587.7 626.4L588.4 627.3L589.1 626.2L589.8 627.0L590.5 628.5L591.2 628.5L591.9 627.3L592.6 627.4L593.3 628.0L594.0 626.9L594.7 627.2L595.4 628.2L596.1 626.6L596.8 628.0L597.5 627.0L598.2 628.1L598.9 627.8L599.6 627.4L600.3 626.8L601.0 628.2L601.7 626.7L602.4 628.4L603.1 627.5L603.8 627.1L604.5 628.4L605.2 628.1L605.9 627.6L606.6 628.4L607.3 627.8L608.0 628.9L608.7 628.8L609.4 627.8L610.1 626.8L610.8 628.5L611.5 627.6L612.2 628.3L612.9 628.2L613.6 627.0L614.3 628.1L615.0 627.3L615.7 628.5L616.4 627.0L617.1 627.5L617.8 627.1L618.5 628.6L619.2 627.5L619.9 628.5L620.6 627.9L621.3 627.9L622.0 628.5L622.7 627.3L623.4 628.1L624.1 627.5L624.8 629.0L625.5 627.4L626.2 628.5L626.9 626.8L627.6 627.9L628.3 628.1L629.0 627.1L629.7 628.2L630.4 627.4L631.1 627.9L631.8 627.2L632.5 628.6L633.2 627.9L633.9 628.3L634.6 627.5L635.3 628.8L636.0 628.1L636.7 628.8L637.4 627.7L638.1 628.7L638.8 629.3L639.5 628.7L640.2 627.7L640.9 628.4L641.6 628.7L642.3 627.9L643.0 627.6L643.7 629.1L644.4 629.0L645.1 628.0L645.8 627.6L646.5 627.6L647.2 628.2L647.9 627.6L648.6 628.5L649.3 626.9L650.0 628.7L650.7 627.2L651.4 628.2L652.1 628.5L652.8 627.5L653.5 628.6L654.2 627.9L654.9 628.5L655.6 627.4L656.3 628.6L657.0 627.2L657.7 627.8L658.4 627.1L659.1 628.4L659.8 627.0L660.5 627.2L661.2 626.7L661.9 628.3L662.6 626.8L663.3 627.5L664.0 627.4L664.7 628.4L665.4 628.5L666.1 627.9L666.8 628.0L667.5 627.0L668.2 628.4L668.9 627.0L669.6 627.9L670.3 626.3L671.0 627.9L671.7 626.0L672.4 627.1L673.1 626.6L673.8 626.7" fill="none" stroke="#ff0000" stroke-width="2.85" stroke-linejoin="round" stroke-linecap="butt"/>
<path d="M159.3 791.9L160.0 791.3L160.7 791.5L161.4 791.5L162.1 791.4L162.8 791.9L163.5 791.8L164.2 791.4L164.9 791.6L165.6 791.3L166.3 791.7L167.0 791.8L167.7 791.3L168.4 791.1L169.1 791.6L169.8 791.1L170.5 791.5L171.2 790.8L171.9 790.8L172.6 791.1L173.3 790.8L174.0 790.3L174.7 790.6L175.4 790.1L176.1 790.1L176.8 789.7L177.5 790.2L178.2 789.9L178.9 790.0L179.6 789.4L180.3 789.5L181.0 789.1L181.7 789.3L182.4 788.7L183.1 788.4L183.8 788.6L184.5 788.2L185.2 788.1L185.9 787.8L186.6 788.3L187.3 788.1L188.0 788.2L188.7 788.6L189.4 788.4L190.1 788.3L190.8 788.4L191.5 788.7L192.2 788.0L192.9 787.4L193.6 785.3L193.9 785.0L194.3 785.5L195.0 787.5L195.7 787.3L196.4 784.9L197.0 783.8L197.1 784.2L197.8 785.3L198.5 786.6L199.2 786.5L199.9 786.4L200.6 786.7L201.3 786.2L202.0 786.7L202.7 786.4L203.4 786.5L204.1 786.9L204.8 786.5L205.5 786.8L206.2 786.5L206.9 786.9L207.6 786.2L208.3 786.3L209.0 786.1L209.7 786.4L210.4 785.9L211.1 785.9L211.8 786.1L212.5 786.0L213.2 785.9L213.9 785.7L214.6 785.4L215.3 785.1L216.0 785.4L216.7 785.2L217.4 784.6L218.1 784.2L218.8 784.6L219.5 783.9L220.2 783.9L220.9 783.2L221.6 782.1L222.3 781.3L223.0 779.9L223.7 779.4L224.4 776.0L225.1 724.5L225.8 678.5L226.4 666.3L226.5 667.4L227.2 676.2L227.9 691.6L228.6 775.1L229.3 779.1L230.0 781.3L230.7 781.4L231.4 782.6L232.1 782.3L232.8 782.2L233.5 782.7L234.2 782.4L234.9 782.1L235.6 782.6L236.3 782.1L237.0 781.9L237.7 781.9L238.4 782.3L239.1 781.9L239.8 782.5L240.5 782.0L241.2 781.1L241.9 781.3L242.6 780.4L243.3 780.1L244.0 779.7L244.7 779.0L245.4 778.9L246.1 776.7L246.6 776.5L246.8 776.3L247.5 776.9L248.2 776.8L248.9 773.0L249.2 772.5L249.6 773.0L250.3 774.9L251.0 773.7L251.7 771.3L252.4 769.3L253.1 766.7L253.8 765.3L254.5 738.5L255.2 718.8L255.9 705.0L256.6 694.3L257.3 685.8L258.0 678.5L258.7 681.3L259.4 685.6L260.1 695.1L260.8 773.0L261.5 773.3L262.2 774.8L262.9 776.6L263.6 779.0L264.3 781.0L265.0 781.3L265.7 782.3L266.4 783.4L267.1 784.2L267.8 783.8L268.5 784.0L269.2 784.6L269.9 784.5L270.6 784.6L271.3 784.3L272.0 784.4L272.7 784.7L273.4 784.5L274.1 783.9L274.8 783.5L275.5 783.0L276.2 782.1L276.9 781.6L277.6 781.5L278.3 781.6L279.0 779.4L279.6 778.7L279.7 778.7L280.4 780.3L281.1 780.7L281.8 780.8L282.5 780.9L283.2 778.4L283.9 776.9L284.1 776.6L284.6 777.7L285.3 779.2L286.0 780.2L286.7 781.4L287.4 783.5L288.1 784.7L288.8 786.0L289.5 785.3L290.2 785.3L290.9 784.9L291.6 784.9L292.3 786.2L293.0 786.8L293.7 787.8L294.4 787.9L295.1 787.4L295.8 787.9L296.5 787.8L297.2 787.8L297.9 787.7L298.6 787.8L299.3 787.7L300.0 787.6L300.7 787.6L301.4 787.9L302.1 787.7L302.8 787.5L303.5 788.1L304.2 787.6L304.9 788.2L305.6 787.8L306.3 787.6L307.0 788.3L307.7 788.1L308.4 787.7L309.1 788.2L309.8 788.0L310.5 788.0L311.2 787.0L311.9 787.2L312.6 786.7L313.3 786.4L314.0 787.3L314.7 787.7L315.4 787.9L316.1 788.7L316.8 788.7L317.5 788.4L318.2 788.1L318.9 788.5L319.6 788.7L320.3 788.4L321.0 788.4L321.7 788.5L322.4 788.9L323.1 788.4L323.8 788.8L324.5 788.4L325.2 788.7L325.9 788.4L326.6 788.6L327.3 788.7L328.0 788.4L328.7 788.7L329.4 788.3L330.1 788.7L330.8 788.4L331.5 788.7L332.2 788.4L332.9 788.3L333.6 788.7L334.3 788.9L335.0 788.9L335.7 788.4L336.4 788.7L337.1 788.6L337.8 788.7L338.5 788.2L339.2 788.7L339.9 788.1L340.6 788.4L341.3 788.3L342.0 787.3L342.7 787.5L343.4 787.0L344.1 786.1L344.8 786.4L345.5 785.6L346.2 785.5L346.9 785.9L347.6 785.8L348.3 785.2L349.0 785.3L349.7 784.8L350.4 785.3L351.1 784.4L351.8 782.0L352.0 781.7L352.5 782.7L353.2 785.8L353.9 788.2L354.6 789.1L355.3 788.9L356.0 788.8L356.7 789.1L357.4 788.9L358.1 788.8L358.8 789.1L359.5 788.6L360.2 789.1L360.9 789.0L361.6 788.6L362.3 788.8L363.0 789.1L363.7 789.0L364.4 788.6L365.1 788.5L365.8 788.6L366.5 789.0L367.2 788.6L367.9 788.3L368.6 788.3L369.3 788.3L370.0 788.1L370.7 788.2L371.4 788.5L372.1 788.1L372.8 788.5L373.5 787.9L374.2 788.3L374.9 787.7L375.6 787.7L376.3 787.2L377.0 787.0L377.7 787.2L378.4 786.8L379.1 787.0L379.8 787.7L380.5 787.7L381.2 787.5L381.9 787.6L382.6 787.7L383.3 788.3L384.0 788.0L384.7 788.4L385.4 788.1L386.1 788.4L386.8 788.1L387.5 788.0L388.2 788.6L388.9 788.0L389.6 788.1L390.3 788.1L391.0 788.6L391.7 788.4L392.4 788.1L393.1 788.0L393.8 788.0L394.5 788.4L395.2 788.1L395.9 788.0L396.6 788.7L397.3 788.2L398.0 788.4L398.7 788.8L399.4 788.7L400.1 788.4L400.8 788.5L401.5 788.4L402.2 788.1L402.9 788.6L403.6 788.3L404.3 788.5L405.0 788.5L405.7 788.3L406.4 788.1L407.1 788.6L407.8 788.2L408.5 788.6L409.2 788.6L409.9 788.0L410.6 788.5L411.3 788.7L412.0 788.6L412.7 788.0L413.4 788.5L414.1 788.4L414.8 788.0L415.5 788.2L416.2 788.3L416.9 787.9L417.6 787.7L418.3 788.1L419.0 787.6L419.7 788.0L420.4 788.1L421.1 787.9L421.8 787.7L422.5 787.6L423.2 787.4L423.9 787.7L424.6 787.4L425.3 787.6L426.0 787.8L426.7 787.3L427.4 787.5L428.1 787.2L428.8 787.9L429.5 787.7L430.2 787.8L430.9 788.4L431.6 788.3L432.3 788.8L433.0 788.5L433.7 789.0L434.4 789.2L435.1 788.7L435.8 788.7L436.5 789.0L437.2 788.7L437.9 789.0L438.6 788.7L439.3 789.1L440.0 788.9L440.7 789.2L441.4 789.4L442.1 788.9L442.8 789.0L443.5 788.7L444.2 789.2L444.9 788.6L445.6 788.7L446.3 788.5L447.0 788.8L447.7 789.2L448.4 789.7L449.1 789.5L449.8 790.5L450.5 790.0L451.2 790.6L451.9 790.4L452.6 790.3L453.3 790.1L454.0 790.6L454.7 790.0L455.4 789.9L456.1 790.4L456.8 790.3L457.5 790.6L458.2 790.3L458.9 790.4L459.6 790.1L460.3 790.1L461.0 790.0L461.7 790.3L462.4 790.4L463.1 790.1L463.8 790.0L464.5 790.2L465.2 790.5L465.9 790.6L466.6 790.0L467.3 790.3L468.0 790.5L468.7 790.0L469.4 790.1L470.1 790.3L470.8 790.6L471.5 790.3L472.2 790.5L472.9 790.3L473.6 790.5L474.3 790.8L475.0 790.5L475.7 790.8L476.4 791.2L477.1 790.6L477.8 791.1L478.5 791.1L479.2 791.2L479.9 790.8L480.6 790.9L481.3 790.5L482.0 791.2L482.7 790.7L483.4 790.9L484.1 790.6L484.8 790.7L485.5 791.1L486.2 791.2L486.9 791.0L487.6 790.9L488.3 791.2L489.0 791.1L489.7 791.1L490.4 791.1L491.1 790.8L491.8 791.2L492.5 790.9L493.2 791.3L493.9 791.3L494.6 790.9L495.3 790.9L496.0 791.4L496.7 791.0L497.4 791.2L498.1 791.4L498.8 790.8L499.5 791.0L500.2 790.9L500.9 791.2L501.6 790.9L502.3 791.4L503.0 791.3L503.7 790.9L504.4 791.6L505.1 791.2L505.8 791.2L506.5 791.8L507.2 791.3L507.9 791.4L508.6 791.1L509.3 791.7L510.0 791.2L510.7 791.8L511.4 791.8L512.1 791.2L512.8 791.3L513.5 791.7L514.2 791.3L514.9 791.6L515.6 791.2L516.3 791.4L517.0 791.5L517.7 791.6L518.4 792.0L519.1 792.0L519.8 791.6L520.5 791.6L521.2 791.9L521.9 791.5L522.6 791.5L523.3 791.8L524.0 791.9L524.7 791.3L525.4 791.3L526.1 792.1L526.8 791.6L527.5 791.6L528.2 792.1L528.9 791.7L529.6 791.8L530.3 791.6L531.0 791.4L531.7 791.7L532.4 791.6L533.1 792.1L533.8 791.5L534.5 791.6L535.2 791.7L535.9 791.7L536.6 792.1L537.3 791.6L538.0 792.0L538.7 791.8L539.4 791.8L540.1 792.1L540.8 791.5L541.5 791.7L542.2 791.9L542.9 791.7L543.6 791.5L544.3 792.0L545.0 791.6L545.7 792.0L546.4 791.6L547.1 792.2L547.8 792.1L548.5 791.6L549.2 792.3L549.9 791.7L550.6 791.9L551.3 791.4L552.0 792.0L552.7 791.7L553.4 791.7L554.1 791.8L554.8 791.8L555.5 792.2L556.2 792.2L556.9 792.3L557.6 791.8L558.3 792.1L559.0 791.6L559.7 791.9L560.4 791.8L561.1 792.1L561.8 791.6L562.5 792.3L563.2 791.8L563.9 792.0L564.6 792.3L565.3 792.2L566.0 791.8L566.7 792.1L567.4 792.2L568.1 792.1L568.8 791.9L569.5 792.3L570.2 792.3L570.9 792.0L571.6 791.8L572.3 792.2L573.0 791.7L573.7 792.4L574.4 791.9L575.1 792.3L575.8 791.9L576.5 792.5L577.2 792.0L577.9 792.2L578.6 792.2L579.3 792.0L580.0 792.3L580.7 792.1L581.4 792.6L582.1 792.2L582.8 792.3L583.5 792.6L584.2 792.1L584.9 792.0L585.6 792.4L586.3 792.1L587.0 792.5L587.7 792.0L588.4 792.4L589.1 792.0L589.8 792.4L590.5 792.7L591.2 792.2L591.9 792.5L592.6 792.6L593.3 792.4L594.0 792.6L594.7 792.4L595.4 792.7L596.1 792.2L596.8 792.6L597.5 792.3L598.2 792.5L598.9 792.2L599.6 792.4L600.3 792.2L601.0 792.6L601.7 792.8L602.4 792.5L603.1 792.7L603.8 792.2L604.5 792.3L605.2 792.2L605.9 792.7L606.6 792.3L607.3 792.8L608.0 792.6L608.7 792.4L609.4 792.8L610.1 792.2L610.8 792.7L611.5 792.2L612.2 792.6L612.9 792.2L613.6 792.3L614.3 792.6L615.0 792.6L615.7 792.8L616.4 792.8L617.1 792.7L617.8 792.8L618.5 792.8L619.2 792.4L619.9 792.8L620.6 792.9L621.3 792.5L622.0 792.4L622.7 792.8L623.4 792.9L624.1 792.6L624.8 792.8L625.5 792.9L626.2 792.4L626.9 792.6L627.6 792.7L628.3 792.4L629.0 792.8L629.7 792.4L630.4 792.7L631.1 792.8L631.8 793.1L632.5 792.6L633.2 792.9L633.9 792.5L634.6 792.6L635.3 792.5L636.0 793.0L636.7 792.6L637.4 793.0L638.1 792.8L638.8 793.3L639.5 793.1L640.2 792.7L640.9 793.2L641.6 793.0L642.3 792.7L643.0 793.0L643.7 793.1L644.4 792.6L645.1 792.8L645.8 792.4L646.5 792.5L647.2 793.1L647.9 792.5L648.6 793.0L649.3 792.5L650.0 792.9L650.7 792.8L651.4 792.6L652.1 793.0L652.8 792.9L653.5 792.7L654.2 792.4L654.9 792.4L655.6 792.4L656.3 792.8L657.0 792.4L657.7 792.8L658.4 793.0L659.1 792.6L659.8 792.9L660.5 792.7L661.2 793.2L661.9 792.6L662.6 793.0L663.3 792.7L664.0 792.8L664.7 793.2L665.4 792.9L666.1 793.0L666.8 793.2L667.5 792.7L668.2 793.3L668.9 793.0L669.6 792.7L670.3 793.0L671.0 793.1L671.7 793.1L672.4 793.0L673.1 793.4L673.8 793.1" fill="none" stroke="#000000" stroke-width="2.7" stroke-linejoin="round" stroke-linecap="butt"/>
<g stroke="#000" fill="none">
<line x1="103.85" y1="1.2" x2="674.9" y2="1.2" stroke-width="2.3"/>
<line x1="104.75" y1="0" x2="104.75" y2="818.0" stroke-width="2"/>
<line x1="103.85" y1="812.8" x2="674.9" y2="812.8" stroke-width="2.4"/>
<line x1="674.0" y1="0" x2="674.0" y2="823.0" stroke-width="2" stroke="#4a4a4a"/>
<line x1="102.55" y1="24.5" x2="114.15" y2="24.5" stroke-width="2.3"/>
<line x1="104.75" y1="44.8" x2="109.55" y2="44.8" stroke-width="2"/>
<line x1="102.55" y1="65.0" x2="114.15" y2="65.0" stroke-width="2.3"/>
<line x1="104.75" y1="85.3" x2="109.55" y2="85.3" stroke-width="2"/>
<line x1="102.55" y1="105.6" x2="114.15" y2="105.6" stroke-width="2.3"/>
<line x1="104.75" y1="125.8" x2="109.55" y2="125.8" stroke-width="2"/>
<line x1="102.55" y1="146.1" x2="114.15" y2="146.1" stroke-width="2.3"/>
<line x1="104.75" y1="166.4" x2="109.55" y2="166.4" stroke-width="2"/>
<line x1="102.55" y1="186.6" x2="114.15" y2="186.6" stroke-width="2.3"/>
<line x1="104.75" y1="206.9" x2="109.55" y2="206.9" stroke-width="2"/>
<line x1="102.55" y1="227.2" x2="114.15" y2="227.2" stroke-width="2.3"/>
<line x1="104.75" y1="247.4" x2="109.55" y2="247.4" stroke-width="2"/>
<line x1="102.55" y1="267.7" x2="114.15" y2="267.7" stroke-width="2.3"/>
<line x1="104.75" y1="287.9" x2="109.55" y2="287.9" stroke-width="2"/>
<line x1="102.55" y1="308.2" x2="114.15" y2="308.2" stroke-width="2.3"/>
<line x1="104.75" y1="328.5" x2="109.55" y2="328.5" stroke-width="2"/>
<line x1="102.55" y1="348.7" x2="114.15" y2="348.7" stroke-width="2.3"/>
<line x1="104.75" y1="369.0" x2="109.55" y2="369.0" stroke-width="2"/>
<line x1="102.55" y1="389.3" x2="114.15" y2="389.3" stroke-width="2.3"/>
<line x1="104.75" y1="409.5" x2="109.55" y2="409.5" stroke-width="2"/>
<line x1="102.55" y1="429.8" x2="114.15" y2="429.8" stroke-width="2.3"/>
<line x1="104.75" y1="450.1" x2="109.55" y2="450.1" stroke-width="2"/>
<line x1="102.55" y1="470.3" x2="114.15" y2="470.3" stroke-width="2.3"/>
<line x1="104.75" y1="490.6" x2="109.55" y2="490.6" stroke-width="2"/>
<line x1="102.55" y1="510.9" x2="114.15" y2="510.9" stroke-width="2.3"/>
<line x1="104.75" y1="531.1" x2="109.55" y2="531.1" stroke-width="2"/>
<line x1="102.55" y1="551.4" x2="114.15" y2="551.4" stroke-width="2.3"/>
<line x1="104.75" y1="571.7" x2="109.55" y2="571.7" stroke-width="2"/>
<line x1="102.55" y1="591.9" x2="114.15" y2="591.9" stroke-width="2.3"/>
<line x1="104.75" y1="612.2" x2="109.55" y2="612.2" stroke-width="2"/>
<line x1="102.55" y1="632.5" x2="114.15" y2="632.5" stroke-width="2.3"/>
<line x1="104.75" y1="652.7" x2="109.55" y2="652.7" stroke-width="2"/>
<line x1="102.55" y1="673.0" x2="114.15" y2="673.0" stroke-width="2.3"/>
<line x1="104.75" y1="693.2" x2="109.55" y2="693.2" stroke-width="2"/>
<line x1="102.55" y1="713.5" x2="114.15" y2="713.5" stroke-width="2.3"/>
<line x1="104.75" y1="733.8" x2="109.55" y2="733.8" stroke-width="2"/>
<line x1="102.55" y1="754.0" x2="114.15" y2="754.0" stroke-width="2.3"/>
<line x1="104.75" y1="774.3" x2="109.55" y2="774.3" stroke-width="2"/>
<line x1="102.55" y1="794.6" x2="114.15" y2="794.6" stroke-width="2.3"/>
<line x1="102.35" y1="4.2" x2="110.35" y2="4.2" stroke-width="1.6"/>
<line x1="671.9" y1="44.8" x2="674.0" y2="44.8" stroke-width="1" stroke="#4a4a4a"/>
<line x1="671.9" y1="85.3" x2="674.0" y2="85.3" stroke-width="1" stroke="#4a4a4a"/>
<line x1="671.9" y1="125.8" x2="674.0" y2="125.8" stroke-width="1" stroke="#4a4a4a"/>
<line x1="671.9" y1="166.4" x2="674.0" y2="166.4" stroke-width="1" stroke="#4a4a4a"/>
<line x1="671.9" y1="206.9" x2="674.0" y2="206.9" stroke-width="1" stroke="#4a4a4a"/>
<line x1="671.9" y1="247.4" x2="674.0" y2="247.4" stroke-width="1" stroke="#4a4a4a"/>
<line x1="671.9" y1="287.9" x2="674.0" y2="287.9" stroke-width="1" stroke="#4a4a4a"/>
<line x1="671.9" y1="328.5" x2="674.0" y2="328.5" stroke-width="1" stroke="#4a4a4a"/>
<line x1="671.9" y1="369.0" x2="674.0" y2="369.0" stroke-width="1" stroke="#4a4a4a"/>
<line x1="671.9" y1="409.5" x2="674.0" y2="409.5" stroke-width="1" stroke="#4a4a4a"/>
<line x1="671.9" y1="450.1" x2="674.0" y2="450.1" stroke-width="1" stroke="#4a4a4a"/>
<line x1="671.9" y1="490.6" x2="674.0" y2="490.6" stroke-width="1" stroke="#4a4a4a"/>
<line x1="671.9" y1="531.1" x2="674.0" y2="531.1" stroke-width="1" stroke="#4a4a4a"/>
<line x1="671.9" y1="571.7" x2="674.0" y2="571.7" stroke-width="1" stroke="#4a4a4a"/>
<line x1="671.9" y1="612.2" x2="674.0" y2="612.2" stroke-width="1" stroke="#4a4a4a"/>
<line x1="671.9" y1="652.7" x2="674.0" y2="652.7" stroke-width="1" stroke="#4a4a4a"/>
<line x1="671.9" y1="693.2" x2="674.0" y2="693.2" stroke-width="1" stroke="#4a4a4a"/>
<line x1="671.9" y1="733.8" x2="674.0" y2="733.8" stroke-width="1" stroke="#4a4a4a"/>
<line x1="671.9" y1="774.3" x2="674.0" y2="774.3" stroke-width="1" stroke="#4a4a4a"/>
<line x1="122.6" y1="812.8" x2="122.6" y2="823.0" stroke-width="1.8"/>
<line x1="159.3" y1="812.8" x2="159.3" y2="823.0" stroke-width="1.8"/>
<line x1="196.1" y1="812.8" x2="196.1" y2="823.0" stroke-width="1.8"/>
<line x1="232.8" y1="812.8" x2="232.8" y2="823.0" stroke-width="1.8"/>
<line x1="269.5" y1="812.8" x2="269.5" y2="823.0" stroke-width="1.8"/>
<line x1="306.3" y1="812.8" x2="306.3" y2="823.0" stroke-width="1.8"/>
<line x1="343.0" y1="812.8" x2="343.0" y2="823.0" stroke-width="1.8"/>
<line x1="379.7" y1="812.8" x2="379.7" y2="823.0" stroke-width="1.8"/>
<line x1="416.5" y1="812.8" x2="416.5" y2="823.0" stroke-width="1.8"/>
<line x1="453.2" y1="812.8" x2="453.2" y2="823.0" stroke-width="1.8"/>
<line x1="490.0" y1="812.8" x2="490.0" y2="823.0" stroke-width="1.8"/>
<line x1="526.7" y1="812.8" x2="526.7" y2="823.0" stroke-width="1.8"/>
<line x1="563.4" y1="812.8" x2="563.4" y2="823.0" stroke-width="1.8"/>
<line x1="600.2" y1="812.8" x2="600.2" y2="823.0" stroke-width="1.8"/>
<line x1="636.9" y1="812.8" x2="636.9" y2="823.0" stroke-width="1.8"/>
<line x1="673.6" y1="812.8" x2="673.6" y2="823.0" stroke-width="1.8"/>
<line x1="141.0" y1="812.8" x2="141.0" y2="818.0" stroke-width="1.6"/>
<line x1="177.7" y1="812.8" x2="177.7" y2="818.0" stroke-width="1.6"/>
<line x1="214.4" y1="812.8" x2="214.4" y2="818.0" stroke-width="1.6"/>
<line x1="251.2" y1="812.8" x2="251.2" y2="818.0" stroke-width="1.6"/>
<line x1="287.9" y1="812.8" x2="287.9" y2="818.0" stroke-width="1.6"/>
<line x1="324.6" y1="812.8" x2="324.6" y2="818.0" stroke-width="1.6"/>
<line x1="361.4" y1="812.8" x2="361.4" y2="818.0" stroke-width="1.6"/>
<line x1="398.1" y1="812.8" x2="398.1" y2="818.0" stroke-width="1.6"/>
<line x1="434.8" y1="812.8" x2="434.8" y2="818.0" stroke-width="1.6"/>
<line x1="471.6" y1="812.8" x2="471.6" y2="818.0" stroke-width="1.6"/>
<line x1="508.3" y1="812.8" x2="508.3" y2="818.0" stroke-width="1.6"/>
<line x1="545.1" y1="812.8" x2="545.1" y2="818.0" stroke-width="1.6"/>
<line x1="581.8" y1="812.8" x2="581.8" y2="818.0" stroke-width="1.6"/>
<line x1="618.5" y1="812.8" x2="618.5" y2="818.0" stroke-width="1.6"/>
<line x1="655.3" y1="812.8" x2="655.3" y2="818.0" stroke-width="1.6"/>
</g>
<g font-size="22.3" text-anchor="end" fill="#000" stroke="#000" stroke-width="0.4">
<text transform="translate(94.5 30.1) scale(0.955 1)">840</text>
<text transform="translate(94.5 70.6) scale(0.955 1)">560</text>
<text transform="translate(94.5 111.2) scale(0.955 1)">280</text>
<text transform="translate(94.5 151.7) scale(0.955 1)">0</text>
<text transform="translate(94.5 192.2) scale(0.955 1)">1440</text>
<text transform="translate(94.5 232.8) scale(0.955 1)">960</text>
<text transform="translate(94.5 273.3) scale(0.955 1)">480</text>
<text transform="translate(94.5 313.8) scale(0.955 1)">0</text>
<text transform="translate(94.5 354.3) scale(0.955 1)">1350</text>
<text transform="translate(94.5 394.9) scale(0.955 1)">900</text>
<text transform="translate(94.5 435.4) scale(0.955 1)">450</text>
<text transform="translate(94.5 475.9) scale(0.955 1)">0</text>
<text transform="translate(94.5 516.5) scale(0.955 1)">2250</text>
<text transform="translate(94.5 557.0) scale(0.955 1)">1500</text>
<text transform="translate(94.5 597.5) scale(0.955 1)">750</text>
<text transform="translate(94.5 638.1) scale(0.955 1)">0</text>
<text transform="translate(94.5 678.6) scale(0.955 1)">6000</text>
<text transform="translate(94.5 719.1) scale(0.955 1)">4000</text>
<text transform="translate(94.5 759.6) scale(0.955 1)">2000</text>
<text transform="translate(94.5 800.2) scale(0.955 1)">0</text>
</g>
<g font-size="21.4" text-anchor="middle" fill="#000" stroke="#000" stroke-width="0.3">
<text transform="translate(122.4 844.8) scale(1.01 1)">5</text>
<text transform="translate(159.1 844.8) scale(1.01 1)">10</text>
<text transform="translate(195.9 844.8) scale(1.01 1)">15</text>
<text transform="translate(232.6 844.8) scale(1.01 1)">20</text>
<text transform="translate(269.3 844.8) scale(1.01 1)">25</text>
<text transform="translate(306.1 844.8) scale(1.01 1)">30</text>
<text transform="translate(342.8 844.8) scale(1.01 1)">35</text>
<text transform="translate(379.5 844.8) scale(1.01 1)">40</text>
<text transform="translate(416.3 844.8) scale(1.01 1)">45</text>
<text transform="translate(453.0 844.8) scale(1.01 1)">50</text>
<text transform="translate(489.8 844.8) scale(1.01 1)">55</text>
<text transform="translate(526.5 844.8) scale(1.01 1)">60</text>
<text transform="translate(563.2 844.8) scale(1.01 1)">65</text>
<text transform="translate(600.0 844.8) scale(1.01 1)">70</text>
<text transform="translate(636.7 844.8) scale(1.01 1)">75</text>
<text transform="translate(685.8 844.8) scale(1.01 1)" text-anchor="end">80</text>
</g>
<text transform="translate(33.9 532.4) rotate(-90) scale(1 1.055)" font-size="44.4" textLength="299.6" lengthAdjust="spacingAndGlyphs" fill="#000" stroke="#000" stroke-width="1" stroke-linejoin="round">Intensity, (cps)</text>
<g fill="#000" stroke="#000" stroke-width="0.8">
<text transform="translate(364.5 902.6)" font-size="42.5">2</text>
<text transform="translate(383.2 902.6) scale(0.88 0.92)" font-size="42.5">θ</text>
<text transform="translate(399.4 897.4)" font-size="28.5" stroke-width="0.9">°</text>
</g>
<rect x="534.5" y="84.7" width="108.6" height="31.6" fill="#fff" stroke="#000" stroke-width="1.5"/>
<line x1="542.2" y1="102.6" x2="601.6" y2="102.6" stroke="#ff8000" stroke-width="2.8"/>
<text x="606.0" y="110.6" font-size="27.4" font-weight="normal" fill="#000" stroke="#000" stroke-width="0.25">A5</text>
<rect x="534.5" y="247.1" width="108.6" height="31.6" fill="#fff" stroke="#000" stroke-width="1.5"/>
<line x1="542.2" y1="265.0" x2="601.6" y2="265.0" stroke="#0000ff" stroke-width="2.8"/>
<text x="606.0" y="273.0" font-size="27.4" font-weight="normal" fill="#000" stroke="#000" stroke-width="0.25">A4</text>
<rect x="534.5" y="409.4" width="108.6" height="31.6" fill="#fff" stroke="#000" stroke-width="1.5"/>
<line x1="542.2" y1="427.3" x2="601.6" y2="427.3" stroke="#00ff00" stroke-width="2.8"/>
<text x="606.0" y="435.3" font-size="27.4" font-weight="normal" fill="#000" stroke="#000" stroke-width="0.25">A3</text>
<rect x="534.5" y="571.8" width="108.6" height="31.6" fill="#fff" stroke="#000" stroke-width="1.5"/>
<line x1="542.2" y1="589.6" x2="601.6" y2="589.6" stroke="#ff0000" stroke-width="2.8"/>
<text x="606.0" y="597.6" font-size="27.4" font-weight="normal" fill="#000" stroke="#000" stroke-width="0.25">A2</text>
<rect x="534.5" y="734.1" width="108.6" height="31.6" fill="#fff" stroke="#000" stroke-width="1.5"/>
<line x1="542.2" y1="752.0" x2="601.6" y2="752.0" stroke="#000000" stroke-width="2.8"/>
<text x="606.0" y="760.0" font-size="27.4" font-weight="normal" fill="#000" stroke="#000" stroke-width="0.25">A1</text>
<text transform="translate(181.3 71.4) rotate(-90)" font-size="22.6" textLength="50.6" lengthAdjust="spacingAndGlyphs" fill="#000" stroke="#000" stroke-width="1.1" stroke-linejoin="round">19.12°</text>
<text transform="translate(292.8 71.4) rotate(-90)" font-size="22.6" textLength="51.2" lengthAdjust="spacingAndGlyphs" fill="#000" stroke="#000" stroke-width="1.1" stroke-linejoin="round">23.35°</text>
<text transform="translate(211.0 594.4) rotate(-90)" font-size="22.6" textLength="49.4" lengthAdjust="spacingAndGlyphs" fill="#000" stroke="#000" stroke-width="1.1" stroke-linejoin="round">16.10°</text>
<text transform="translate(296.2 596.4) rotate(-90)" font-size="22.6" textLength="51.0" lengthAdjust="spacingAndGlyphs" fill="#000" stroke="#000" stroke-width="1.1" stroke-linejoin="round">28.18°</text>
<text transform="translate(327.7 594.6) rotate(-90)" font-size="22.6" textLength="52.0" lengthAdjust="spacingAndGlyphs" fill="#000" stroke="#000" stroke-width="1.1" stroke-linejoin="round">29.19°</text>
<text transform="translate(358.8 599.6) rotate(-90)" font-size="22.6" textLength="53.0" lengthAdjust="spacingAndGlyphs" fill="#000" stroke="#000" stroke-width="1.1" stroke-linejoin="round">36.26°</text>
<text transform="translate(394.2 597.6) rotate(-90)" font-size="22.6" textLength="55.0" lengthAdjust="spacingAndGlyphs" fill="#000" stroke="#000" stroke-width="1.1" stroke-linejoin="round">40.96°</text>
<text transform="translate(464.4 594.0) rotate(-90)" font-size="22.6" textLength="53.0" lengthAdjust="spacingAndGlyphs" fill="#000" stroke="#000" stroke-width="1.1" stroke-linejoin="round">50.32°</text>
<text transform="translate(519.3 594.8) rotate(-90)" font-size="22.6" textLength="52.0" lengthAdjust="spacingAndGlyphs" fill="#000" stroke="#000" stroke-width="1.1" stroke-linejoin="round">65.04°</text>
<text transform="translate(200.1 770.8) rotate(-90)" font-size="22.6" textLength="50.0" lengthAdjust="spacingAndGlyphs" fill="#000" stroke="#000" stroke-width="1.1" stroke-linejoin="round">15.04°</text>
<text transform="translate(288.5 773.6) rotate(-90)" font-size="22.6" textLength="52.0" lengthAdjust="spacingAndGlyphs" fill="#000" stroke="#000" stroke-width="1.1" stroke-linejoin="round">26.98°</text>
<text transform="translate(310.0 773.6) rotate(-90)" font-size="22.6" textLength="52.0" lengthAdjust="spacingAndGlyphs" fill="#000" stroke="#000" stroke-width="1.1" stroke-linejoin="round">27.79°</text>
<text transform="translate(359.0 774.6) rotate(-90)" font-size="22.6" textLength="51.0" lengthAdjust="spacingAndGlyphs" fill="#000" stroke="#000" stroke-width="1.1" stroke-linejoin="round">36.32°</text>
<line x1="187.4" y1="54.8" x2="210.9" y2="54.8" stroke="#000" stroke-width="1.3"/>
<polygon points="221.0,54.8 208.4,58.5 210.9,54.8 208.4,51.1" fill="#000"/>
<line x1="291.5" y1="43.9" x2="267.8" y2="43.9" stroke="#000" stroke-width="1.3"/>
<polygon points="257.3,43.9 270.3,40.1 267.8,43.9 270.3,47.7" fill="#000"/>
<line x1="320.8" y1="601.6" x2="313.1" y2="604.0" stroke="#000" stroke-width="1.3"/>
<polygon points="304.0,606.9 314.3,599.8 313.1,604.0 316.6,606.8" fill="#000"/>
<line x1="306.5" y1="773.9" x2="300.5" y2="777.5" stroke="#000" stroke-width="1.3"/>
<polygon points="291.9,782.6 300.7,773.0 300.5,777.5 304.5,779.4" fill="#000"/>
</svg>
</body></html>
